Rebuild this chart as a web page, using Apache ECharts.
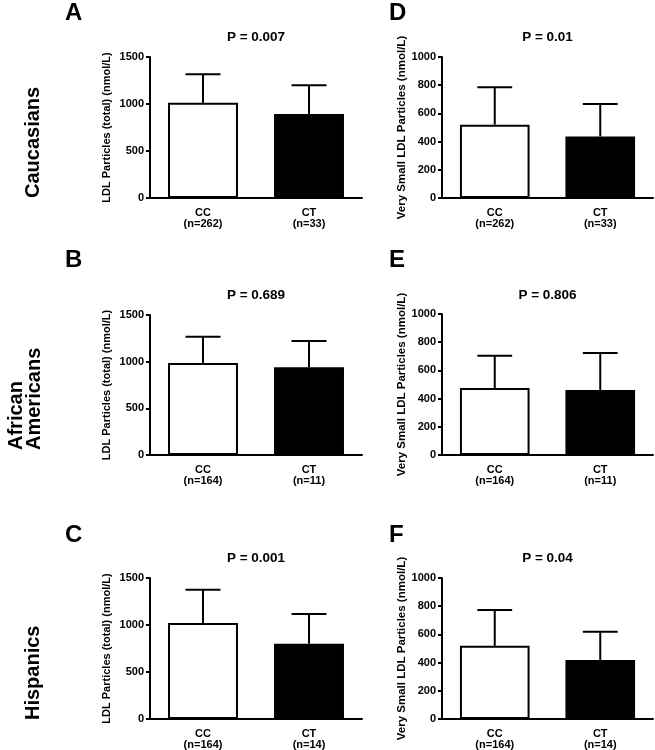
<!DOCTYPE html>
<html>
<head>
<meta charset="utf-8">
<script src="https://cdn.jsdelivr.net/npm/echarts@6/dist/echarts.min.js"></script>
<style>
html,body{margin:0;padding:0;background:#fff;}
#chart{width:655px;height:750px;}
</style>
</head>
<body>
<div id="chart"></div>
<script>
// ---------- data ----------
const groups = ['CC', 'CT'];
const nCaucasians = ['(n=262)', '(n=33)'];
const nAfricanAmericans = ['(n=164)', '(n=11)'];
const nHispanics = ['(n=164)', '(n=14)'];

const ldlMeanCaucasians = [1014, 894];
const ldlSdCaucasians = [302, 305];
const ldlMeanAfricanAmericans = [986, 940];
const ldlSdAfricanAmericans = [282, 282];
const ldlMeanHispanics = [1020, 800];
const ldlSdHispanics = [356, 316];

const vsMeanCaucasians = [520, 437];
const vsSdCaucasians = [265, 230];
const vsMeanAfricanAmericans = [475, 461];
const vsSdAfricanAmericans = [229, 262];
const vsMeanHispanics = [519, 419];
const vsSdHispanics = [254, 199];

const pValues = ['P = 0.007', 'P = 0.689', 'P = 0.001', 'P = 0.01', 'P = 0.806', 'P = 0.04'];
const panelLetters = ['A', 'B', 'C', 'D', 'E', 'F'];
const rowLabels = ['Caucasians', 'African\nAmericans', 'Hispanics'];
const yNameLDL = 'LDL Particles (total) (nmol/L)';
const yNameVS = 'Very Small LDL Particles (nmol/L)';
const ldlTicks = { min: 0, max: 1500, interval: 500 };
const vsTicks = { min: 0, max: 1000, interval: 200 };

// ---------- layout ----------
const FONT = '"Liberation Sans", Arial, Helvetica, sans-serif';
const panels = [
  { grid: { left: 150, top: 57, width: 212, height: 141 }, n: nCaucasians, mean: ldlMeanCaucasians, sd: ldlSdCaucasians, yName: yNameLDL, ticks: ldlTicks, nameGap: 38, nameSize: 11, letterPos: [65, 13], pY: 37 },
  { grid: { left: 150, top: 315, width: 212, height: 140 }, n: nAfricanAmericans, mean: ldlMeanAfricanAmericans, sd: ldlSdAfricanAmericans, yName: yNameLDL, ticks: ldlTicks, nameGap: 38, nameSize: 11, letterPos: [65, 260], pY: 295 },
  { grid: { left: 150, top: 578, width: 212, height: 141 }, n: nHispanics, mean: ldlMeanHispanics, sd: ldlSdHispanics, yName: yNameLDL, ticks: ldlTicks, nameGap: 38, nameSize: 11, letterPos: [65, 535], pY: 558 },
  { grid: { left: 442, top: 57, width: 211, height: 141 }, n: nCaucasians, mean: vsMeanCaucasians, sd: vsSdCaucasians, yName: yNameVS, ticks: vsTicks, nameGap: 32, nameSize: 11.5, letterPos: [389, 13], pY: 37 },
  { grid: { left: 442, top: 314, width: 211, height: 141 }, n: nAfricanAmericans, mean: vsMeanAfricanAmericans, sd: vsSdAfricanAmericans, yName: yNameVS, ticks: vsTicks, nameGap: 32, nameSize: 11.5, letterPos: [389, 260], pY: 295 },
  { grid: { left: 442, top: 578, width: 211, height: 141 }, n: nHispanics, mean: vsMeanHispanics, sd: vsSdHispanics, yName: yNameVS, ticks: vsTicks, nameGap: 32, nameSize: 11.5, letterPos: [389, 535], pY: 558 }
];
const rowLabelPos = [[33, 198], [25.5, 450], [33, 720]];

const grids = [], xAxes = [], yAxes = [], series = [], graphics = [];

panels.forEach((p, i) => {
  grids.push(Object.assign({ containLabel: false }, p.grid));
  xAxes.push({
    type: 'category', gridIndex: i,
    data: groups.map((g, k) => g + '\n' + p.n[k]),
    axisLine: { lineStyle: { color: '#000', width: 2 } },
    axisTick: { show: false },
    axisLabel: { color: '#000', fontFamily: FONT, fontWeight: 'bold', fontSize: 11, lineHeight: 11, margin: 9, interval: 0 }
  });
  yAxes.push({
    type: 'value', gridIndex: i,
    min: p.ticks.min, max: p.ticks.max, interval: p.ticks.interval,
    name: p.yName, nameLocation: 'middle', nameGap: p.nameGap,
    nameTextStyle: { color: '#000', fontFamily: FONT, fontWeight: 'bold', fontSize: p.nameSize },
    splitLine: { show: false },
    axisLine: { show: true, lineStyle: { color: '#000', width: 2 } },
    axisTick: { show: true, length: 4, lineStyle: { color: '#000', width: 2 } },
    axisLabel: { color: '#000', fontFamily: FONT, fontWeight: 'bold', fontSize: 11, margin: 6, formatter: v => String(v) }
  });
  series.push({
    type: 'bar', xAxisIndex: i, yAxisIndex: i, barWidth: '66%', z: 2,
    data: p.mean.map((v, k) => ({
      value: v,
      itemStyle: k === 0 ? { color: '#fff', borderColor: '#000', borderWidth: 2 } : { color: '#000', borderColor: '#000', borderWidth: 2 }
    }))
  });
  series.push({
    type: 'custom', xAxisIndex: i, yAxisIndex: i, z: 3,
    data: p.mean.map((v, k) => [k, v, p.sd[k]]),
    encode: { x: 0, y: 1 },
    renderItem: function (params, api) {
      const x = api.value(0), m = api.value(1), s = api.value(2);
      const p0 = api.coord([x, m]);
      const p1 = api.coord([x, m + s]);
      const w = api.size([1, 0])[0] * 0.165;
      const st = { stroke: '#000', lineWidth: 2 };
      return {
        type: 'group', children: [
          { type: 'line', shape: { x1: p0[0], y1: p0[1], x2: p1[0], y2: p1[1] }, style: st },
          { type: 'line', shape: { x1: p1[0] - w, y1: p1[1], x2: p1[0] + w, y2: p1[1] }, style: st }
        ]
      };
    }
  });
  graphics.push({
    type: 'text', x: p.letterPos[0], y: p.letterPos[1],
    style: { text: panelLetters[i], font: 'bold 24px ' + FONT, fill: '#000', align: 'left', verticalAlign: 'middle' }
  });
  graphics.push({
    type: 'text', x: p.grid.left + p.grid.width / 2, y: p.pY,
    style: { text: pValues[i], font: 'bold 13.5px ' + FONT, fill: '#000', align: 'center', verticalAlign: 'middle' }
  });
});

rowLabels.forEach((t, r) => {
  graphics.push({
    type: 'text', x: rowLabelPos[r][0], y: rowLabelPos[r][1], rotation: Math.PI / 2,
    style: { text: t, font: 'bold 20px ' + FONT, fill: '#000', align: 'left', verticalAlign: 'middle', lineHeight: 18 }
  });
});

const chart = echarts.init(document.getElementById('chart'), null, { renderer: 'canvas' });
chart.setOption({
  animation: false,
  backgroundColor: '#fff',
  grid: grids, xAxis: xAxes, yAxis: yAxes, series: series,
  graphic: { elements: graphics }
});
</script>
</body>
</html>
